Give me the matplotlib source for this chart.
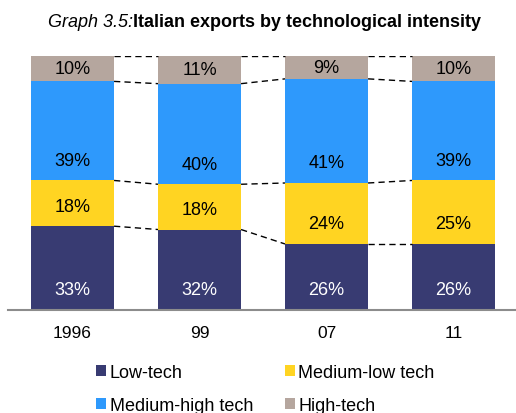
import matplotlib
matplotlib.use("Agg")
import matplotlib.pyplot as plt
import numpy as np

plt.rcParams['font.family'] = ['Liberation Sans', 'DejaVu Sans']

years = ["1996", "99", "07", "11"]
series_names = ["Low-tech", "Medium-low tech", "Medium-high tech", "High-tech"]
low_tech = [33, 32, 26, 26]
medium_low = [18, 18, 24, 25]
medium_high = [39, 40, 41, 39]
high_tech = [10, 11, 9, 10]
colors = ["#383b72", "#ffd422", "#2e99fc", "#b5a69e"]
text_colors = ["white", "black", "black", "black"]

W, H = 516, 414
fig = plt.figure(figsize=(W / 100, H / 100), dpi=100)
ax_left, ax_right, ax_top, ax_bot = 8, 515, 57, 311
ax = fig.add_axes([ax_left / W, 1 - ax_bot / H, (ax_right - ax_left) / W, (ax_bot - ax_top) / H])

data = np.array([low_tech, medium_low, medium_high, high_tech], dtype=float)
shares = data / data.sum(axis=0) * 100
x = np.arange(len(years))
width = 0.654

bottoms = np.zeros(len(years))
axes_h_px = ax_bot - ax_top
label_off = 20 / axes_h_px * 100
handles = []
for i, name in enumerate(series_names):
    b = ax.bar(x, shares[i], width, bottom=bottoms, color=colors[i], label=name,
               edgecolor='none')
    handles.append(b)
    for j in range(len(years)):
        h = shares[i][j]
        ypos = bottoms[j] + min(label_off, h / 2)
        ax.text(x[j], ypos, f"{int(data[i][j])}%", ha='center', va='center',
                fontsize=13, color=text_colors[i])
    bottoms = bottoms + shares[i]

# dashed connector lines between segment boundaries
cum = np.cumsum(shares, axis=0)
for k in range(cum.shape[0]):
    for j in range(len(years) - 1):
        ax.plot([x[j] + width / 2, x[j + 1] - width / 2], [cum[k][j], cum[k][j + 1]],
                color='black', linestyle=(0, (4.5, 3)), linewidth=1.0)

ax.set_xlim(-0.508, 3.484)
ax.set_ylim(0, 100)
ax.set_xticks(x)
ax.set_xticklabels(years, fontsize=12.5)
ax.tick_params(axis='x', length=0, pad=11)
ax.set_yticks([])
for s in ['top', 'right', 'left']:
    ax.spines[s].set_visible(False)
ax.spines['bottom'].set_color('#8c8c8c')
ax.spines['bottom'].set_linewidth(1.5)

# legend filled row-wise (matplotlib fills column-wise)
order = [0, 2, 1, 3]
leg = fig.legend([handles[i] for i in order], [series_names[i] for i in order],
                 ncol=2, frameon=False, fontsize=13,
                 loc='upper left', bbox_to_anchor=(89 / W, 1 - 358 / H),
                 handlelength=0.55, handleheight=0.55, handletextpad=0.2,
                 columnspacing=1.75, labelspacing=0.85, borderaxespad=0)

t1 = fig.text(48 / W, 1 - 27 / H, "Graph 3.5:", fontsize=13, style='italic',
              va='baseline', ha='left')
fig.canvas.draw()
bb = t1.get_window_extent()
fig.text(bb.x1 / W, 1 - 27 / H, "Italian exports by technological intensity", fontsize=13,
         fontweight='bold', va='baseline', ha='left')

fig.savefig("out.png", dpi=100)
